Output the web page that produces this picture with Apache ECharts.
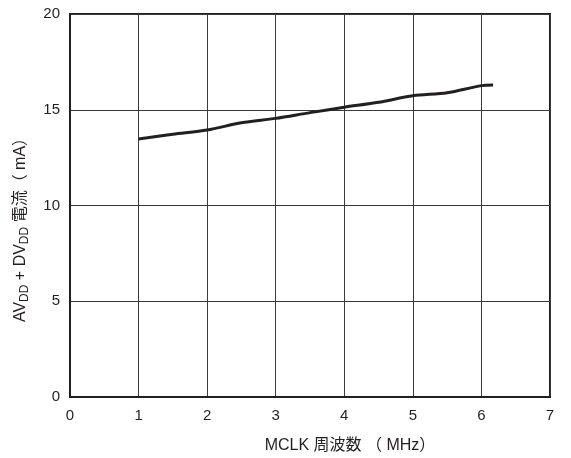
<!DOCTYPE html>
<html><head><meta charset="utf-8">
<script src="https://cdn.jsdelivr.net/npm/echarts@6/dist/echarts.min.js"></script>
<style>html,body{margin:0;padding:0;background:#fff}#c{width:571px;height:458px}</style>
</head><body><div id="c"></div>
<script>
const freqMHz = [1, 1.5, 2, 2.5, 3, 3.5, 4, 4.5, 5, 5.5, 6, 6.17];
const currentMA = [13.47, 13.72, 13.94, 14.32, 14.55, 14.85, 15.13, 15.39, 15.73, 15.89, 16.26, 16.29];
const xTicks = [0, 1, 2, 3, 4, 5, 6, 7];
const yTicks = [0, 5, 10, 15, 20];
const xName = 'MCLK 周波数 （ MHz）';
const yName = 'AV{sub|DD} + DV{sub|DD} 電流（ mA）';

const font = '"Liberation Sans", Arial, "Noto Sans CJK JP", sans-serif';
const chart = echarts.init(document.getElementById('c'));
chart.setOption({
  animation: false,
  grid: {left: 70, right: 21, top: 14, bottom: 61, containLabel: false, outerBoundsMode: 'none',
    show: true, borderColor: '#231f20', borderWidth: 2, backgroundColor: 'transparent'},
  xAxis: {
    type: 'value', min: xTicks[0], max: xTicks[xTicks.length-1], interval: 1,
    name: xName, nameLocation: 'middle', nameGap: 41,
    nameTextStyle: {fontFamily: font, fontSize: 16, color: '#231f20', padding: [0, 0, 0, 80]},
    axisLine: {show: true, lineStyle: {color: '#231f20', width: 2}},
    axisTick: {show: false},
    axisLabel: {fontFamily: font, fontSize: 15, color: '#231f20', margin: 11},
    splitLine: {show: true, lineStyle: {color: '#3a3a3a', width: 1}}
  },
  yAxis: {
    type: 'value', min: yTicks[0], max: yTicks[yTicks.length-1], interval: 5,
    name: yName, nameLocation: 'middle', nameGap: 39, nameRotate: 90,
    nameTextStyle: {fontFamily: font, fontSize: 16, color: '#231f20', padding: [0, 41, 0, 0],
      rich: {sub: {fontFamily: font, fontSize: 12, color: '#231f20', padding: [8, 0, 0, 0]}}},
    axisLine: {show: true, lineStyle: {color: '#231f20', width: 2}},
    axisTick: {show: false},
    axisLabel: {fontFamily: font, fontSize: 15, color: '#231f20', margin: 10},
    splitLine: {show: true, lineStyle: {color: '#3a3a3a', width: 1}}
  },
  series: [{
    type: 'line', data: freqMHz.map((x, i) => [x, currentMA[i]]),
    smooth: 0.3, showSymbol: false, lineStyle: {color: '#231f20', width: 3}
  }]
});
</script></body></html>
